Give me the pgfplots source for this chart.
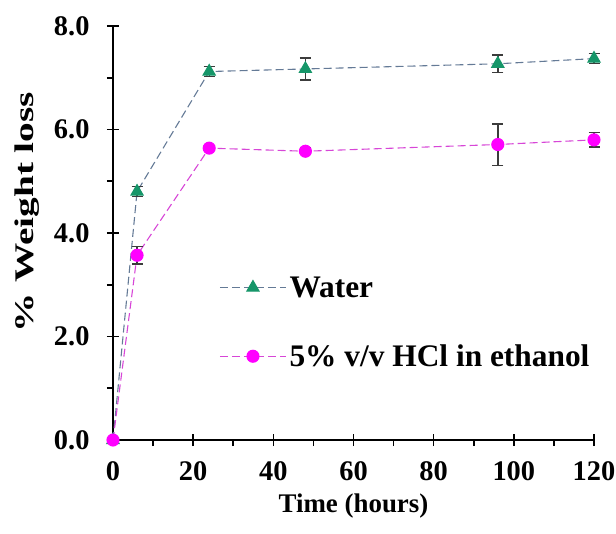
\documentclass[border=0pt]{standalone}
\usepackage{fontspec}
\setmainfont{Liberation Serif}
\newfontfamily\ylfont[FakeStretch=1.46]{Liberation Serif}
\usepackage{pgfplots}
\pgfplotsset{compat=1.18}

\definecolor{watermk}{RGB}{22,150,105}
\definecolor{waterln}{RGB}{100,122,150}
\definecolor{hclmk}{RGB}{255,0,255}
\definecolor{hclln}{RGB}{215,70,215}
\definecolor{errc}{RGB}{60,60,60}

\begin{document}
\begin{tikzpicture}
\begin{axis}[
  scale only axis, width=481bp, height=414bp,
  xmin=0, xmax=120, ymin=0, ymax=8,
  axis x line*=bottom, axis y line*=left,
  axis line style={line width=1.6pt},
  xtick={0,20,...,120}, ytick={0,2,...,8},
  minor x tick num=1, minor y tick num=1,
  tick align=center,
  major tick length=12bp, minor tick length=6bp,
  every tick/.style={black, line width=1.6pt},
  minor x tick style={yshift=-3bp},
  minor y tick style={xshift=-3bp},
  tick label style={font=\bfseries\fontsize{28.5}{32}\selectfont},
  /pgf/number format/assume math mode=true,
  yticklabel={\pgfmathprintnumber[fixed,fixed zerofill,precision=1]{\tick}},
  xticklabel style={yshift=-12bp},
  yticklabel style={xshift=-14bp},
  xlabel={Time (hours)},
  every axis x label/.style={at={(rel axis cs:0.5,0)}, yshift=-66bp, anchor=center,
    font=\bfseries\fontsize{27}{32}\selectfont},
  ylabel={\% Weight loss},
  every axis y label/.style={at={(rel axis cs:0,0.5)}, xshift=-86bp, yshift=21bp, rotate=90, anchor=center,
    font=\ylfont\bfseries\fontsize{27}{30}\selectfont},
  clip=false,
  legend cell align=left,
  legend image code/.code={\draw[mark repeat=2,mark phase=2,#1] plot coordinates {(0bp,0bp) (33bp,0bp) (66bp,0bp)};},
  legend style={draw=none, fill=none, at={(axis cs:26.5,3.22)}, anchor=north west,
    font=\bfseries\fontsize{31.5}{34}\selectfont, row sep=40bp, inner sep=0pt,
    nodes={inner sep=3bp}},
  error bars/error bar style={errc, line width=1.4pt, solid},
  error bars/error mark options={rotate=90, mark size=5.5bp, line width=1.4pt, errc},
]
\addplot+[waterln, line width=1.1pt, dash pattern=on 8bp off 4bp,
  mark=triangle*, mark size=7bp, mark options={solid, fill=watermk, draw=watermk},
  error bars/.cd, y dir=both, y explicit]
  coordinates {
    (0,0) +- (0,0)
    (6,4.80) +- (0,0.10)
    (24,7.12) +- (0,0.10)
    (48,7.17) +- (0,0.21)
    (96,7.27) +- (0,0.17)
    (120,7.37) +- (0,0.10)
  };
\addlegendentry{Water}
\addplot+[hclln, line width=1.1pt, dash pattern=on 8bp off 4bp,
  mark=*, mark size=6bp, mark options={solid, fill=hclmk, draw=hclmk},
  error bars/.cd, y dir=both, y explicit]
  coordinates {
    (0,0) +- (0,0)
    (6,3.57) +- (0,0.17)
    (24,5.64) +- (0,0.04)
    (48,5.58) +- (0,0.06)
    (96,5.71) +- (0,0.40)
    (120,5.80) +- (0,0.14)
  };
\addlegendentry{5\% v/v HCl in ethanol}
\coordinate (ll) at (rel axis cs:0,0);
\coordinate (ur) at (rel axis cs:1,1);
\end{axis}
\pgfresetboundingbox
\path ([shift={(-113bp,-94bp)}]ll) rectangle ([shift={(22bp,26bp)}]ur);
\end{tikzpicture}
\end{document}
